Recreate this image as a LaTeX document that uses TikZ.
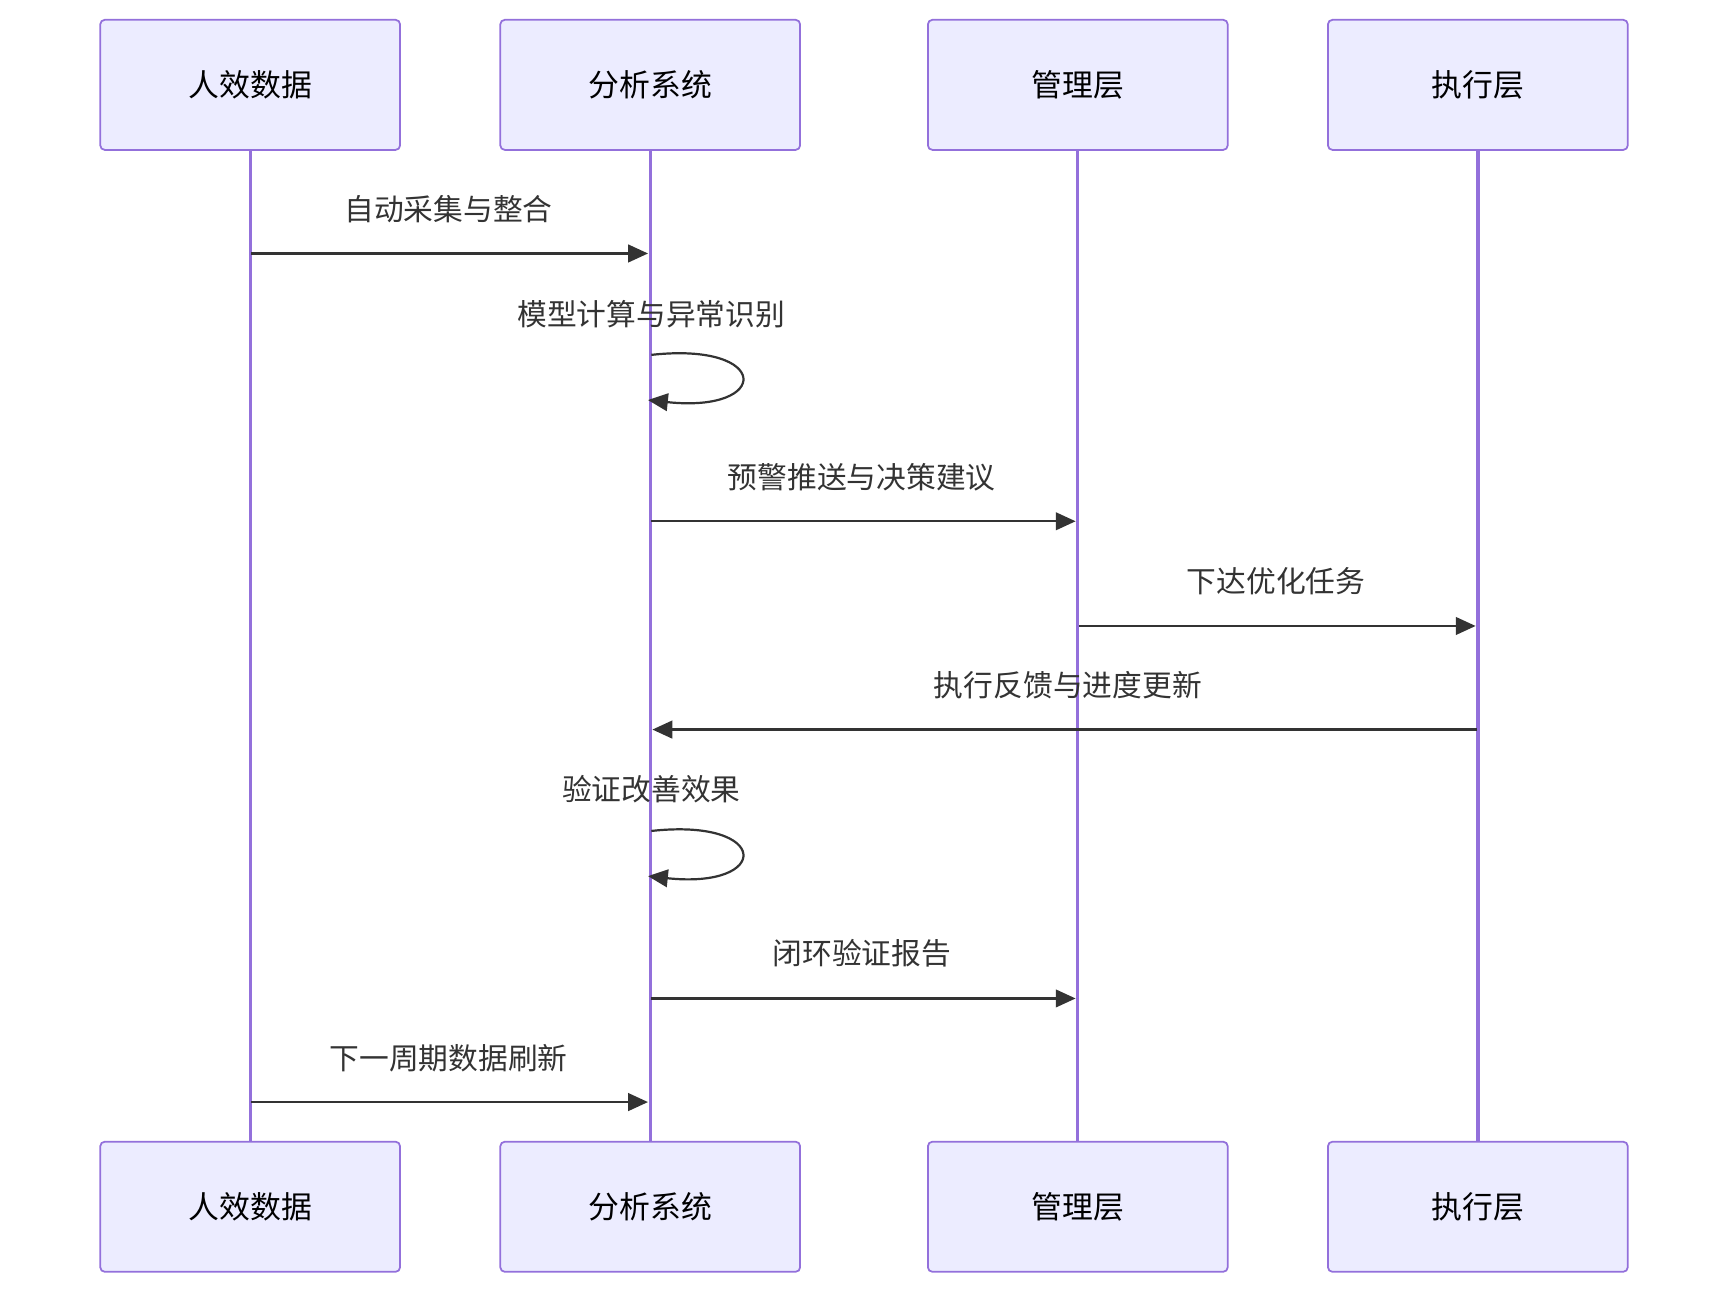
\documentclass[tikz,border=0pt]{standalone}
\usepackage{fontspec}
\setmainfont{Noto Sans CJK SC}
\usetikzlibrary{arrows.meta, positioning}
\definecolor{actfill}{HTML}{ECECFF}
\definecolor{actline}{HTML}{9370DB}
\definecolor{msgline}{HTML}{333333}
\tikzset{
  actor/.style={rectangle, rounded corners=2pt, draw=actline, fill=actfill, line width=0.8pt, minimum width=136pt, minimum height=59pt, font=\fontsize{14}{16}\selectfont},
  life/.style={draw=actline, line width=1.5pt},
  msg/.style={draw=msgline, line width=1pt, -{Triangle[length=9pt,width=8pt]}},
  msglabel/.style={font=\fontsize{13.5}{15}\selectfont, text=msgline}
}
\begin{document}
\begin{tikzpicture}[x=0.5pt, y=-0.5pt]
\useasboundingbox (0,0) rectangle (1568,1174);

% Participants
\node[actor] (dataT) at (227,77) {人效数据};
\node[actor] (sysT) at (590,77) {分析系统};
\node[actor] (mgrT) at (978,77) {管理层};
\node[actor] (exeT) at (1341,77) {执行层};
\node[actor] (dataB) at (227,1095) {人效数据};
\node[actor] (sysB) at (590,1095) {分析系统};
\node[actor] (mgrB) at (978,1095) {管理层};
\node[actor] (exeB) at (1341,1095) {执行层};

% Lifelines
\draw[life] (dataT) -- (dataB);
\draw[life] (sysT) -- (sysB);
\draw[life] (mgrT) -- (mgrB);
\draw[life] (exeT) -- (exeB);

% Messages
\coordinate (d1) at (228,230); \coordinate (s1) at (588,230);
\draw[msg] (d1) -- (s1);
\node[msglabel] (m1) at (407,190) {自动采集与整合};

\coordinate (s2) at (591,322); \coordinate (s2e) at (588,363);
\draw[msg] (s2) .. controls (700,310) and (700,375) .. (s2e);
\node[msglabel] (m2) at (591,285) {模型计算与异常识别};

\coordinate (s3) at (591,473); \coordinate (g3) at (976,473);
\draw[msg] (s3) -- (g3);
\node[msglabel] (m3) at (782,433) {预警推送与决策建议};

\coordinate (g4) at (979,568); \coordinate (e4) at (1339,568);
\draw[msg] (g4) -- (e4);
\node[msglabel] (m4) at (1158,527) {下达优化任务};

\coordinate (e5) at (1340,662); \coordinate (s5) at (592,662);
\draw[msg] (e5) -- (s5);
\node[msglabel] (m5) at (969,622) {执行反馈与进度更新};

\coordinate (s6) at (591,754); \coordinate (s6e) at (588,795);
\draw[msg] (s6) .. controls (700,742) and (700,807) .. (s6e);
\node[msglabel] (m6) at (591,716) {验证改善效果};

\coordinate (s7) at (591,906); \coordinate (g7) at (976,906);
\draw[msg] (s7) -- (g7);
\node[msglabel] (m7) at (782,865) {闭环验证报告};

\coordinate (d8) at (228,1000); \coordinate (s8) at (588,1000);
\draw[msg] (d8) -- (s8);
\node[msglabel] (m8) at (407,960) {下一周期数据刷新};

\end{tikzpicture}
\end{document}
